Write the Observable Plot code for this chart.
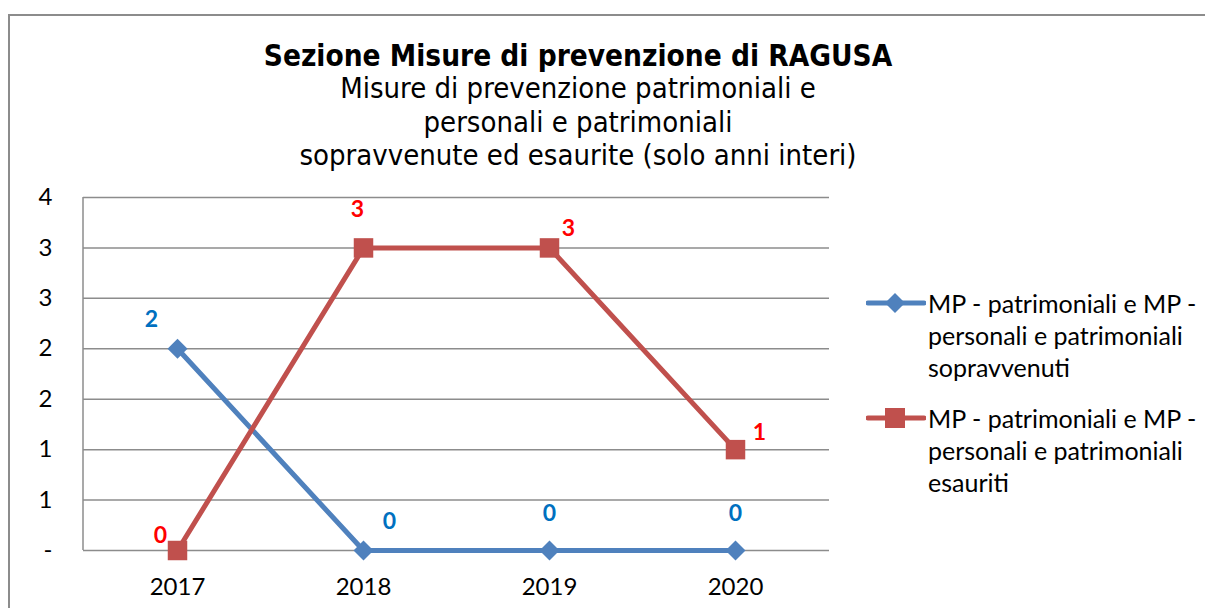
<!DOCTYPE html>
<html><head><meta charset="utf-8">
<script src="https://cdn.jsdelivr.net/npm/d3@7"></script>
<script src="https://cdn.jsdelivr.net/npm/@observablehq/plot@0.6"></script>
<style>
body{margin:0;background:#fff;width:1205px;height:608px;overflow:hidden;position:relative;}
#frame{position:absolute;left:8px;top:14px;width:1400px;height:800px;border-left:2px solid #8c8c8c;border-top:2px solid #8c8c8c;}
#titles{position:absolute;left:0;width:1156px;top:41px;text-align:center;color:#000;}
#t1{font-family:"DejaVu Sans Condensed","DejaVu Sans",sans-serif;font-weight:bold;font-size:29.5px;line-height:31px;}
#t2{font-family:"DejaVu Sans Condensed","DejaVu Sans",sans-serif;font-size:29px;line-height:33.5px;}
#chart{position:absolute;left:0;top:180px;}
.leg{position:absolute;left:866px;font-family:Lato,sans-serif;font-size:25px;line-height:32px;color:#000;}
.leg svg{position:absolute;left:0;}
.leg div{position:absolute;left:62px;top:0;white-space:nowrap;}
</style></head>
<body>
<div id="frame"></div>
<div id="titles"><div id="t1"></div><div id="t2"></div></div>
<div id="chart"></div>
<div id="legend"></div>
<script>
const years = ["2017", "2018", "2019", "2020"];
const sopravvenuti = [2, 0, 0, 0];
const esauriti = [0, 3, 3, 1];
const yTicks = [0, 0.5, 1, 1.5, 2, 2.5, 3, 3.5];
const yTickLabels = ["-", "1", "1", "2", "2", "3", "3", "4"];
const titleText = "Sezione Misure di prevenzione di RAGUSA";
const subtitleLines = ["Misure di prevenzione patrimoniali e", "personali e patrimoniali", "sopravvenute ed esaurite (solo anni interi)"];
const legendLines = [
  ["MP - patrimoniali e MP -", "personali e patrimoniali", "sopravvenuti"],
  ["MP - patrimoniali e MP -", "personali e patrimoniali", "esauriti"]
];

const blueC = "#4F81BD", redC = "#C0504D";
const blueLab = "#0070C0", redLab = "#FF0000";
const blueOff = [[-26, -29], [26, -29], [0, -37], [0, -37]];
const redOff = [[-17, -15], [-6, -38], [19, -19], [24, -17]];

document.getElementById("t1").textContent = titleText;
document.getElementById("t2").innerHTML = subtitleLines.join("<br>");

const blue = years.map((y, i) => ({year: y, value: sopravvenuti[i]}));
const red = years.map((y, i) => ({year: y, value: esauriti[i]}));

const labelMarks = (data, offs, color) => data.map((d, i) =>
  Plot.text([d], {x: "year", y: "value", text: d => String(d.value), dx: offs[i][0], dy: offs[i][1],
    fill: color, fontWeight: "bold", fontSize: 23}));

const leftLine = (index, scales, values, dims) => {
  const l = document.createElementNS("http://www.w3.org/2000/svg", "line");
  l.setAttribute("x1", dims.marginLeft); l.setAttribute("x2", dims.marginLeft);
  l.setAttribute("y1", scales.y(3.5)); l.setAttribute("y2", scales.y(0));
  l.setAttribute("stroke", "#8c8c8c"); l.setAttribute("stroke-width", 1.5);
  return l;
};

const chart = Plot.plot({
  width: 1205, height: 428,
  marginLeft: 83, marginRight: 376, marginTop: 17, marginBottom: 58,
  style: {fontFamily: "Lato, sans-serif", fontSize: "24px", color: "#000", background: "transparent"},
  x: {type: "point", domain: years, padding: 0.5, align: 0.5},
  y: {domain: [0, 3.5]},
  marks: [
    Plot.ruleY(yTicks, {stroke: "#8c8c8c", strokeWidth: 1.5}),
    leftLine,
    Plot.axisX({label: null, tickSize: 0, tickPadding: 27, fontSize: 24, fill: "#000"}),
    Plot.axisY({ticks: yTicks, tickFormat: d => yTickLabels[yTicks.indexOf(d)], label: null, tickSize: 0, tickPadding: 31, fontSize: 24, fill: "#000"}),
    Plot.line(blue, {x: "year", y: "value", stroke: blueC, strokeWidth: 5}),
    Plot.dot(blue, {x: "year", y: "value", symbol: "diamond2", r: 9, fill: blueC, stroke: "none"}),
    Plot.line(red, {x: "year", y: "value", stroke: redC, strokeWidth: 5}),
    Plot.dot(red, {x: "year", y: "value", symbol: "square", r: 11, fill: redC, stroke: "none"}),
    ...labelMarks(blue, blueOff, blueLab),
    ...labelMarks(red, redOff, redLab)
  ]
});
document.getElementById("chart").appendChild(chart);

// legend
const legTops = [287, 402];
const legColors = [blueC, redC];
const legSym = ["diamond", "square"];
const leg = document.getElementById("legend");
legendLines.forEach((lines, k) => {
  const box = document.createElement("div");
  box.className = "leg";
  box.style.top = legTops[k] + "px";
  const s = d3.create("svg").attr("width", 60).attr("height", 32).style("top", "0px");
  s.append("line").attr("x1", 2).attr("x2", 58).attr("y1", 16).attr("y2", 16)
    .attr("stroke", legColors[k]).attr("stroke-width", 5).attr("stroke-linecap", "round");
  if (legSym[k] === "diamond") s.append("path").attr("d", "M29,6L39,16L29,26L19,16Z").attr("fill", legColors[k]);
  else s.append("rect").attr("x", 19).attr("y", 6).attr("width", 20).attr("height", 20).attr("fill", legColors[k]);
  box.appendChild(s.node());
  const t = document.createElement("div");
  t.innerHTML = lines.join("<br>");
  box.appendChild(t);
  leg.appendChild(box);
});
</script>
</body></html>
